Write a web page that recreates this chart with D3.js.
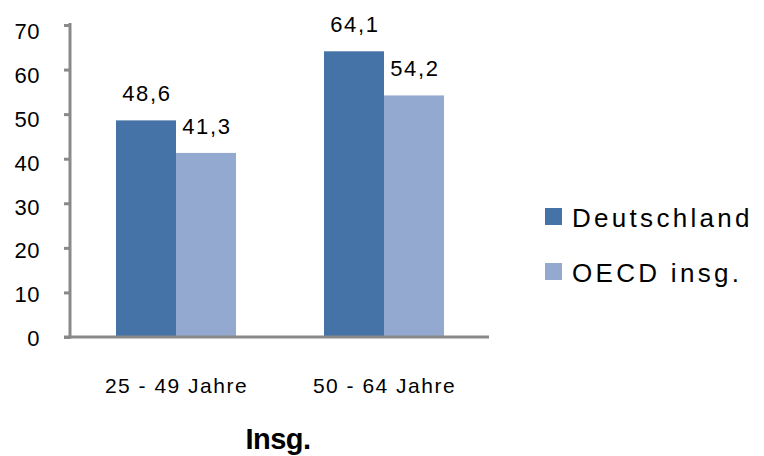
<!DOCTYPE html>
<html>
<head>
<meta charset="utf-8">
<script src="https://cdn.jsdelivr.net/npm/d3@7"></script>
<style>
  html, body { margin: 0; padding: 0; background: #fff; }
  svg { display: block; font-family: "Liberation Sans", Arial, sans-serif; }
</style>
</head>
<body>
<svg id="chart" width="764" height="456"></svg>
<script>
// Employment shares by age group
const categories = ["25 - 49 Jahre", "50 - 64 Jahre"];
const seriesNames = ["Deutschland", "OECD insg."];
const deutschland = [48.6, 64.1];
const oecd = [41.3, 54.2];
const yTicks = [0, 10, 20, 30, 40, 50, 60, 70];
const title = "Insg.";

const colors = ["#4572A7", "#93A9CF"];
const axisColor = "#898989";

const svg = d3.select("#chart");

const yAxisX = 70;
const x0 = d3.scaleBand()
  .domain(categories)
  .range([72, 488])
  .paddingInner(0.423)
  .paddingOuter(0.2115);

const x1 = d3.scaleBand()
  .domain(seriesNames)
  .range([0, x0.bandwidth()]);

const y = d3.scaleLinear().domain([0, 70]).range([337, 25]);

const rows = categories.map((c, i) => ({
  category: c,
  values: [
    { name: seriesNames[0], value: deutschland[i], color: colors[0] },
    { name: seriesNames[1], value: oecd[i], color: colors[1] }
  ]
}));

// Bars
const groups = svg.append("g").selectAll("g")
  .data(rows).join("g")
  .attr("transform", d => `translate(${x0(d.category)},0)`);

groups.selectAll("rect")
  .data(d => d.values).join("rect")
  .attr("x", d => x1(d.name))
  .attr("y", d => y(d.value))
  .attr("width", x1.bandwidth())
  .attr("height", d => y(0) - y(d.value))
  .attr("fill", d => d.color);

// Value labels
const fmt = v => d3.format(".1f")(v).replace(".", ",");
groups.selectAll("text")
  .data(d => d.values).join("text")
  .attr("x", d => x1(d.name) + x1.bandwidth() / 2 + 1)
  .attr("y", d => y(d.value) - 19)
  .attr("text-anchor", "middle")
  .attr("font-size", 22)
  .attr("letter-spacing", 1.7)
  .attr("fill", "#000")
  .text(d => fmt(d.value));

// Y axis
const yAxis = svg.append("g")
  .attr("transform", `translate(${yAxisX},0)`)
  .call(d3.axisLeft(y).tickValues(yTicks).tickSize(6).tickSizeOuter(0).tickPadding(24));
yAxis.select(".domain").attr("stroke", axisColor).attr("stroke-width", 3)
  .attr("d", `M0,${y(70) - 2}V${y(0) + 1.5}`);
yAxis.selectAll(".tick line").attr("stroke", axisColor).attr("stroke-width", 3);
yAxis.selectAll(".tick text")
  .attr("font-size", 22)
  .attr("font-family", "Liberation Sans, Arial, sans-serif")
  .attr("letter-spacing", 0.5)
  .attr("fill", "#000")
  .attr("dy", "0.36em")
  .attr("y", (d, i) => 1 + i * 0.6);

// X axis baseline
svg.append("line")
  .attr("x1", yAxisX - 6)
  .attr("x2", x0.range()[1] + 1)
  .attr("y1", y(0))
  .attr("y2", y(0))
  .attr("stroke", axisColor)
  .attr("stroke-width", 3);

// Category labels
svg.append("g").selectAll("text")
  .data(categories).join("text")
  .attr("x", d => x0(d) + x0.bandwidth() / 2 + 0.5)
  .attr("y", 393)
  .attr("text-anchor", "middle")
  .attr("font-size", 21)
  .attr("letter-spacing", 1.5)
  .attr("fill", "#000")
  .text(d => d);

// Axis title
svg.append("text")
  .attr("x", 278)
  .attr("y", 449)
  .attr("text-anchor", "middle")
  .attr("font-size", 29)
  .attr("font-weight", "bold")
  .attr("letter-spacing", -0.5)
  .attr("fill", "#000")
  .text(title);

// Legend
const legend = svg.append("g").selectAll("g")
  .data(seriesNames).join("g")
  .attr("transform", (d, i) => `translate(545,${208 + i * 55})`);
legend.append("rect")
  .attr("width", 17).attr("height", 17)
  .attr("fill", (d, i) => colors[i]);
legend.append("text")
  .attr("x", 27)
  .attr("y", 18.5)
  .attr("font-size", 26)
  .attr("letter-spacing", 3.3)
  .attr("fill", "#000")
  .text(d => d);
</script>
</body>
</html>
